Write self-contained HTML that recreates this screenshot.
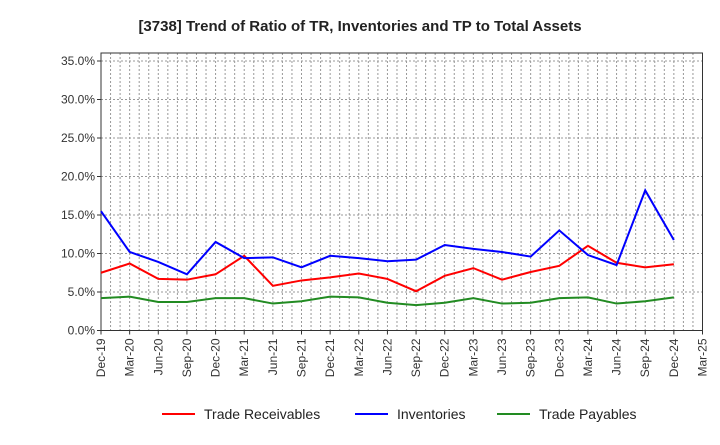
<!DOCTYPE html>
<html><head><meta charset="utf-8"><style>
body{margin:0;background:#fff;font-family:"Liberation Sans",Arial,sans-serif;}
svg text{font-family:"Liberation Sans",Arial,sans-serif;}
</style></head><body>
<svg width="720" height="440" xmlns="http://www.w3.org/2000/svg">
<text x="360" y="31" text-anchor="middle" font-size="15" font-weight="bold" fill="#222">[3738]  Trend of Ratio of TR, Inventories and TP to Total Assets</text>
<g id="grid"></g>
<g id="axes"></g>
<g id="series"></g>
<g id="legend"></g>
</svg>
<script>
const categories=["Dec-19","Mar-20","Jun-20","Sep-20","Dec-20","Mar-21","Jun-21","Sep-21","Dec-21","Mar-22","Jun-22","Sep-22","Dec-22","Mar-23","Jun-23","Sep-23","Dec-23","Mar-24","Jun-24","Sep-24","Dec-24","Mar-25"];
const tradeReceivables=[7.5,8.7,6.7,6.6,7.3,9.7,5.8,6.5,6.9,7.4,6.7,5.1,7.1,8.1,6.6,7.6,8.4,11.0,8.8,8.2,8.6];
const inventories=[15.5,10.2,8.9,7.3,11.5,9.4,9.5,8.2,9.7,9.4,9.0,9.2,11.1,10.6,10.2,9.6,13.0,9.8,8.5,18.2,11.75];
const tradePayables=[4.2,4.4,3.7,3.7,4.2,4.2,3.5,3.8,4.4,4.3,3.6,3.3,3.6,4.2,3.5,3.6,4.2,4.3,3.5,3.8,4.3];
const yTicks=[0,5,10,15,20,25,30,35];
const NS="http://www.w3.org/2000/svg";
const L=101,R=702.5,T=53,B=330.5;
const xs=i=>L+(R-L)*i/(categories.length-1);
const ys=v=>B-v*7.7;
function mk(tag,attrs,parent){const e=document.createElementNS(NS,tag);for(const k in attrs)e.setAttribute(k,attrs[k]);parent.appendChild(e);return e;}
const grid=document.getElementById('grid'),axes=document.getElementById('axes'),series=document.getElementById('series'),legend=document.getElementById('legend');
for(let m=1;m<(categories.length-1)*3;m++){
  const x=L+(R-L)*m/((categories.length-1)*3);
  const g=mk('line',{x1:x,x2:x,y1:T,y2:B,stroke:'#999','stroke-width':1,'stroke-dasharray':'2,2'},grid);
  
  
}
yTicks.forEach(v=>{
  if(v>0){const g=mk('line',{x1:L,x2:R,y1:ys(v),y2:ys(v),stroke:'#999','stroke-width':1,'stroke-dasharray':'2,2'},grid);
  
  }
  const t=mk('text',{x:L-6,y:ys(v)+4,'text-anchor':'end','font-size':12,fill:'#333'},axes);
  t.textContent=v.toFixed(1)+'%';
  
  
  mk('line',{x1:L-4,x2:L,y1:ys(v),y2:ys(v),stroke:'#333'},axes);
});
const fr=mk('rect',{x:L,y:T,width:R-L,height:B-T,fill:'none',stroke:'#333','stroke-width':1},axes);


categories.forEach((c,i)=>{
  const x=xs(i);
  mk('line',{x1:x,x2:x,y1:B,y2:B+4,stroke:'#333'},axes);
  const t=mk('text',{x:x+4,y:B+8,'text-anchor':'end','font-size':12,fill:'#333',transform:`rotate(-90 ${x+4} ${B+8})`},axes);
  t.textContent=c;
  
  
});
const defs=[[tradeReceivables,'#ff0000','Trade Receivables','trade-receivables-line',162],[inventories,'#0000ff','Inventories','inventories-line',355],[tradePayables,'#228b22','Trade Payables','trade-payables-line',497]];
defs.forEach(([d,col,label,name,lx])=>{
  const p=mk('polyline',{points:d.map((v,i)=>xs(i)+','+ys(v)).join(' '),fill:'none',stroke:col,'stroke-width':2},series);
  
  
  const ll=mk('line',{x1:lx,x2:lx+33,y1:414,y2:414,stroke:col,'stroke-width':2},legend);
  
  
  const t=mk('text',{x:lx+42,y:419,'font-size':14,fill:'#222'},legend);
  t.textContent=label;
  
  
});
</script>
</body></html>
